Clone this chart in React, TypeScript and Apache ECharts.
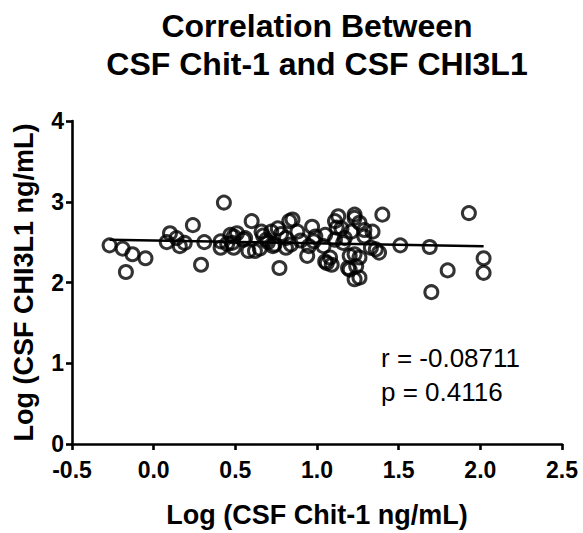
import React, { useEffect, useRef } from "react";
import * as echarts from "echarts";

const chitLog: number[] = [
  -0.27, -0.19, -0.13, -0.05, -0.17, 0.1, 0.08, 0.14, 0.16, 0.19, 0.24, 0.31, 0.29,
  0.43, 0.41, 0.41, 0.45, 0.47, 0.48, 0.49, 0.49, 0.51, 0.55, 0.56, 0.58, 0.6, 0.62,
  0.65, 0.66, 0.67, 0.69, 0.7, 0.72, 0.73, 0.74, 0.76, 0.77, 0.78, 0.81, 0.81, 0.83,
  0.84, 0.85, 0.88, 0.9, 0.94, 0.95, 0.97, 0.98, 0.99, 1.04, 1.05, 1.05, 1.06, 1.08,
  1.09, 1.11, 1.11, 1.13, 1.12, 1.15, 1.16, 1.17, 1.19, 1.2, 1.2, 1.21, 1.23, 1.23,
  1.23, 1.23, 1.24, 1.26, 1.26, 1.26, 1.29, 1.29, 1.33, 1.34, 1.36, 1.38, 1.4, 1.51,
  1.69, 1.7, 1.8, 1.93, 2.02, 2.02,
];
const chi3l1Log: number[] = [
  2.46, 2.42, 2.35, 2.3, 2.13, 2.61, 2.5, 2.55, 2.45, 2.49, 2.71, 2.5, 2.22,
  2.99, 2.51, 2.43, 2.48, 2.59, 2.49, 2.43, 2.57, 2.61, 2.53, 2.55, 2.39, 2.76, 2.39,
  2.42, 2.63, 2.58, 2.53, 2.5, 2.63, 2.45, 2.47, 2.67, 2.18, 2.6, 2.55, 2.43, 2.76,
  2.47, 2.78, 2.63, 2.52, 2.33, 2.45, 2.69, 2.51, 2.57, 2.45, 2.59, 2.26, 2.24, 2.31,
  2.22, 2.76, 2.53, 2.82, 2.68, 2.67, 2.49, 2.55, 2.18, 2.33, 2.16, 2.63, 2.84, 2.8,
  2.35, 2.04, 2.2, 2.74, 2.31, 2.06, 2.57, 2.65, 2.43, 2.63, 2.41, 2.37, 2.84, 2.46,
  2.44, 1.88, 2.15, 2.86, 2.3, 2.12,
];

const fitIntercept = 2.52;
const fitSlope = -0.035;
const fitRange: number[] = [-0.27, 2.02];

const titleLines: string[] = ["Correlation Between", "CSF Chit-1 and CSF CHI3L1"];
const statLines: string[] = ["r = -0.08711", "p = 0.4116"];

export default function App() {
  const ref = useRef<HTMLDivElement>(null);
  useEffect(() => {
    document.body.style.margin = "0";
    if (!ref.current) return;
    const chart = echarts.init(ref.current, null, { renderer: "svg" });
    const font = "Liberation Sans, Arial, sans-serif";
    const points = chitLog.map((x, i) => [x, chi3l1Log[i]]);
    const fit = fitRange.map((x) => [x, fitIntercept + fitSlope * x]);
    chart.setOption({
      animation: false,
      backgroundColor: "#ffffff",
      grid: { left: 72, right: 21, top: 121, bottom: 87 },
      xAxis: {
        type: "value",
        min: -0.5,
        max: 2.5,
        interval: 0.5,
        name: "Log (CSF Chit-1 ng/mL)",
        nameLocation: "middle",
        nameGap: 57,
        nameTextStyle: { fontFamily: font, fontWeight: "bold", fontSize: 27, color: "#000" },
        axisLine: { show: true, onZero: false, lineStyle: { color: "#000", width: 2.6 } },
        axisTick: { show: true, inside: false, length: 6, lineStyle: { color: "#000", width: 2.6 } },
        axisLabel: {
          fontFamily: font,
          fontWeight: "bold",
          fontSize: 23,
          color: "#000",
          margin: 14,
          formatter: (v: number) => v.toFixed(1),
        },
        splitLine: { show: false },
      },
      yAxis: {
        type: "value",
        min: 0,
        max: 4,
        interval: 1,
        name: "Log (CSF CHI3L1 ng/mL)",
        nameLocation: "middle",
        nameGap: 35,
        nameTextStyle: { fontFamily: font, fontWeight: "bold", fontSize: 27, color: "#000" },
        axisLine: { show: true, onZero: false, lineStyle: { color: "#000", width: 2.6 } },
        axisTick: { show: true, inside: false, length: 6, lineStyle: { color: "#000", width: 2.6 } },
        axisLabel: { fontFamily: font, fontWeight: "bold", fontSize: 23, color: "#000", margin: 8 },
        splitLine: { show: false },
      },
      series: [
        {
          type: "scatter",
          data: points,
          symbol: "circle",
          symbolSize: 13,
          itemStyle: { color: "rgba(255,255,255,0)", borderColor: "#000", borderWidth: 3 },
          z: 3,
        },
        {
          type: "line",
          data: fit,
          showSymbol: false,
          symbol: "none",
          lineStyle: { color: "#000", width: 2.6 },
          z: 2,
        },
      ],
      graphic: [
        ...titleLines.map((t, i) => ({
          type: "text",
          x: 317,
          y: 26 + i * 38,
          style: {
            text: t,
            fontFamily: font,
            fontWeight: "bold",
            fontSize: 32,
            fill: "#000",
            align: "center",
            verticalAlign: "middle",
          },
        })),
        ...statLines.map((t, i) => ({
          type: "text",
          x: 381,
          y: 358 + i * 34,
          style: {
            text: t,
            fontFamily: font,
            fontSize: 26,
            fill: "#000",
            align: "left",
            verticalAlign: "middle",
          },
        })),
      ],
    });
    return () => chart.dispose();
  }, []);
  return <div ref={ref} style={{ width: 583, height: 533 }} />;
}
